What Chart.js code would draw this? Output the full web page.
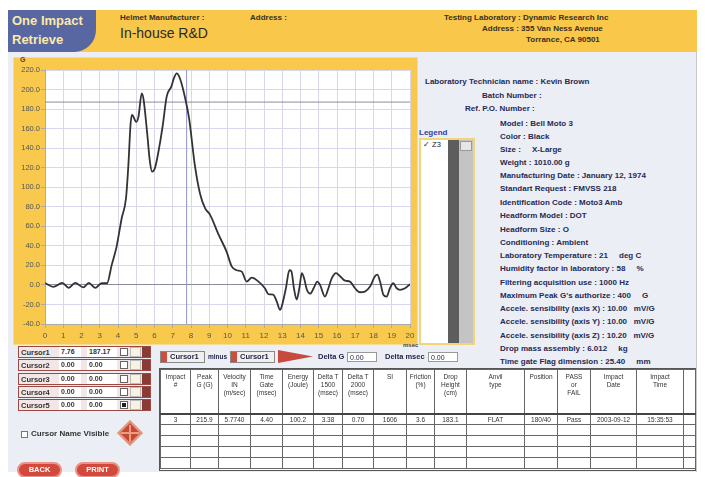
<!DOCTYPE html>
<html><head><meta charset="utf-8">
<script src="https://cdn.jsdelivr.net/npm/chart.js@4/dist/chart.umd.min.js"></script>
<style>
*{box-sizing:border-box;margin:0;padding:0}
body{width:705px;height:477px;background:#fff;font-family:"Liberation Sans",Arial,sans-serif;position:relative;overflow:hidden;color:#22254a}
.abs{position:absolute;white-space:nowrap}
#app{left:8px;top:10px;width:689px;height:462px;background:#eceef5;border-right:1px solid #c8c8d0}
#hdr{left:8px;top:10px;width:689px;height:42px;background:#f9c74a}
#blue{left:8px;top:10px;width:88px;height:42px;background:#5866a2;border-bottom-right-radius:22px}
.bt{font-weight:bold;font-size:13px;color:#fbeaa8;left:12px}
.s7{font-size:8px;font-weight:bold;color:#3a3020}
#panel{left:13px;top:57px;width:405px;height:288px;background:#f9c94e;border:1px solid #f3dc95}
.info{font-size:8px;font-weight:bold;color:#262a52;left:500px}
.crow{left:18px;width:133px;height:12px;border:1px solid #9a4a42;background:#f3e6e6;font-size:7.5px;font-weight:bold;color:#333}
.crow span{position:absolute;top:1px}
.fld{background:#fff;border:1px solid #999;font-size:7px;height:10px;line-height:9px;padding-left:2px}
table{border-collapse:collapse;font-size:6.5px;color:#333;table-layout:fixed}
td{border:1px solid #666;text-align:center;vertical-align:top;overflow:hidden;line-height:8px;padding-top:1px}
.btn{top:462px;height:16px;border-radius:8px;background:#d34a3d;border:2px solid #e8948a;color:#fff;font-weight:bold;font-size:7.5px;text-align:center;line-height:12px}
</style></head><body>
<div id="app" class="abs"></div>
<div id="hdr" class="abs"></div>
<div id="blue" class="abs"></div>
<div class="abs bt" style="top:13px">One Impact</div>
<div class="abs bt" style="top:32px">Retrieve</div>
<div class="abs s7" style="left:120px;top:13px">Helmet Manufacturer :</div>
<div class="abs" style="left:120px;top:25px;font-size:14px;color:#2a2a2a">In-house R&amp;D</div>
<div class="abs s7" style="left:250px;top:13px">Address :</div>
<div class="abs s7" style="left:444px;top:13px">Testing Laboratory : Dynamic Research Inc</div>
<div class="abs s7" style="left:482px;top:24px">Address : 355 Van Ness Avenue</div>
<div class="abs s7" style="left:526px;top:35px">Torrance, CA 90501</div>

<div id="panel" class="abs"></div>
<div class="abs" style="left:20px;top:56px;font-size:7px;font-weight:bold;color:#444">G</div>
<div class="abs" style="left:403px;top:342px;font-size:6px;font-weight:bold;color:#444">msec</div>
<canvas id="c" class="abs" width="405" height="290" style="left:13px;top:57px;width:405px;height:290px"></canvas>

<!-- legend -->
<div class="abs" style="left:419px;top:128px;font-size:8px;font-weight:bold;color:#3340a0">Legend</div>
<div class="abs" style="left:419px;top:138px;width:56px;height:207px;border:2px solid #f4d478;background:#fff"></div>
<div class="abs" style="left:448px;top:140px;width:11px;height:203px;background:#5d5d5d"></div>
<div class="abs" style="left:459px;top:140px;width:14px;height:203px;background:#c4c4c4"></div>
<div class="abs" style="left:460px;top:141px;width:12px;height:10px;background:#e6e6e6;border:1px solid #999"></div>
<div class="abs" style="left:423px;top:140px;font-size:7.5px;color:#222">✓ Z3</div>

<!-- info -->
<div class="abs info" style="left:425px;top:77px">Laboratory Technician name : Kevin Brown</div>
<div class="abs info" style="left:482px;top:91px">Batch Number :</div>
<div class="abs info" style="left:465px;top:104px">Ref. P.O. Number :</div>
<div class="abs info" style="top:119px">Model : Bell Moto 3</div>
<div class="abs info" style="top:132px">Color : Black</div>
<div class="abs info" style="top:145px">Size : &nbsp; &nbsp; X-Large</div>
<div class="abs info" style="top:158px">Weight : 1010.00 g</div>
<div class="abs info" style="top:171px">Manufacturing Date : January 12, 1974</div>
<div class="abs info" style="top:184px">Standart Request : FMVSS 218</div>
<div class="abs info" style="top:198px">Identification Code : Moto3 Amb</div>
<div class="abs info" style="top:211px">Headform Model : DOT</div>
<div class="abs info" style="top:225px">Headform Size : O</div>
<div class="abs info" style="top:238px">Conditioning : Ambient</div>
<div class="abs info" style="top:251px">Laboratory Temperature : 21 &nbsp; &nbsp; deg C</div>
<div class="abs info" style="top:264px">Humidity factor in laboratory : 58 &nbsp; &nbsp; %</div>
<div class="abs info" style="top:278px">Filtering acquisition use : 1000 Hz</div>
<div class="abs info" style="top:291px">Maximum Peak G's authorize : 400 &nbsp; &nbsp; G</div>
<div class="abs info" style="top:304px">Accele. sensibility (axis X) : 10.00 &nbsp; mV/G</div>
<div class="abs info" style="top:317px">Accele. sensibility (axis Y) : 10.00 &nbsp; mV/G</div>
<div class="abs info" style="top:331px">Accele. sensibility (axis Z) : 10.20 &nbsp; mV/G</div>
<div class="abs info" style="top:344px">Drop mass assembly : 6.012 &nbsp; &nbsp; kg</div>
<div class="abs info" style="top:357px">Time gate Flag dimension : 25.40 &nbsp; &nbsp; mm</div>

<!-- cursors -->
<div id="cursors"></div>
<div class="abs" style="left:21px;top:431px;width:7px;height:7px;border:1px solid #777;background:#fff"></div>
<div class="abs" style="left:31px;top:429px;font-size:8px;font-weight:bold;color:#333">Cursor Name Visible</div>
<div class="abs" style="left:121px;top:424px;width:18px;height:18px;background:#c8473a;transform:rotate(45deg);border:2px solid #e49a78"></div>
<div class="abs" style="left:129px;top:425px;width:2px;height:17px;background:#e8a080"></div>
<div class="abs" style="left:121px;top:432px;width:18px;height:2px;background:#e8a080"></div>
<div class="abs btn" style="left:17px;width:45px">BACK</div>
<div class="abs btn" style="left:75px;width:45px">PRINT</div>

<!-- cursor diff -->
<div class="abs" style="left:160px;top:351px;width:45px;height:12px;border:1px solid #888;background:#f2f0ee"></div>
<div class="abs" style="left:161px;top:352px;width:6px;height:10px;background:#c8503f"></div>
<div class="abs" style="left:170px;top:352px;font-size:7.5px;font-weight:bold">Cursor1</div>
<div class="abs" style="left:208px;top:353px;font-size:6.5px;font-weight:bold">minus</div>
<div class="abs" style="left:230px;top:351px;width:45px;height:12px;border:1px solid #888;background:#f2f0ee"></div>
<div class="abs" style="left:231px;top:352px;width:6px;height:10px;background:#c8503f"></div>
<div class="abs" style="left:240px;top:352px;font-size:7.5px;font-weight:bold">Cursor1</div>
<div class="abs" style="left:278px;top:350px;width:35px;height:13px;background:#c64b3e;clip-path:polygon(0 0,100% 50%,0 100%)"></div>
<div class="abs" style="left:318px;top:352px;font-size:7.5px;font-weight:bold">Delta G</div>
<div class="abs fld" style="left:347px;top:352px;width:30px">0.00</div>
<div class="abs" style="left:385px;top:352px;font-size:7.5px;font-weight:bold">Delta msec</div>
<div class="abs fld" style="left:428px;top:352px;width:30px">0.00</div>

<!-- table -->
<div class="abs" style="left:159px;top:368px;width:537px;height:103px;border:1px solid #555;background:#fff"></div>
<table id="tbl" class="abs" style="left:160px;top:369px;width:535px"></table>

<script>
// ---- data ----
const timeMs = [0, 0.45, 0.95, 1.3, 1.65, 2.1, 2.4, 2.75, 3.1, 3.4, 3.65, 3.92, 4.2, 4.44, 4.57, 4.69, 4.77, 5.0, 5.12, 5.3, 5.4, 5.6, 5.75, 5.87, 6.03, 6.27, 6.45, 6.67, 6.92, 7.07, 7.22, 7.4, 7.67, 7.9, 8.2, 8.5, 8.77, 9.04, 9.5, 9.95, 10.23, 10.5, 10.78, 11.05, 11.33, 11.7, 12.05, 12.24, 12.5, 12.7, 12.88, 13.0, 13.2, 13.39, 13.5, 13.64, 13.79, 13.94, 14.07, 14.2, 14.35, 14.53, 14.72, 14.92, 15.07, 15.34, 15.53, 15.71, 15.95, 16.17, 16.44, 16.71, 16.99, 17.26, 17.53, 17.81, 18.08, 18.21, 18.36, 18.54, 18.72, 18.9, 19.08, 19.27, 19.45, 19.73, 20];
const gValues = [2, -2, 2, -3, 2, -2.5, 2, -3, 1.7, 1.7, 20, 39, 68, 89, 123, 165, 174, 167, 172, 196, 190, 155, 126, 116, 120, 142, 163, 193, 203, 212, 216.5, 211, 192, 170, 124, 93, 78.5, 72, 52, 34, 19, 15, 13.6, 3.4, 7.5, 3.4, -3.4, -9.5, -10, -17, -25.6, -20, -3.4, 15, 14, -3.4, -15, -3, 12, 6.6, -5, -9, -3.4, 3.4, 0, -12, -3.4, 6.6, 12, 8.9, 4.4, 3.4, -3.4, -7.5, -6.8, -1.7, 8.9, 10.6, 3.4, -10, -12, -3.4, 1.7, -3.4, -5, -3.4, 0.7];
const cursorT = 7.76;
const cursorG = 187.17;
const xTickMax = 20;
const yTickMin = -40, yTickMax = 220, yStep = 20;

const cursorNames = ["Cursor1","Cursor2","Cursor3","Cursor4","Cursor5"];
const cursorTimes = ["7.76","0.00","0.00","0.00","0.00"];
const cursorGs = ["187.17","0.00","0.00","0.00","0.00"];

const tableHeaders = ["Impact<br>#","Peak<br>G (G)","Velocity<br>IN<br>(m/sec)","Time<br>Gate<br>(msec)","Energy<br>(Joule)","Delta T<br>1500<br>(msec)","Delta T<br>2000<br>(msec)","SI","Friction<br>(%)","Drop<br>Height<br>(cm)","Anvil<br>type","Position","PASS<br>or<br>FAIL","Impact<br>Date","Impact<br>Time",""];
const tableRow = ["3","215.9","5.7740","4.40","100.2","3.38","0.70","1606","3.6","183.1","FLAT","180/40","Pass","2003-09-12","15:35:53",""];
const colWidths = [30,28,32,32,31,29,31,33,28,32,58,33,33,46,47,12];

// ---- cursor rows ----
let ch = "";
cursorNames.forEach((n,i)=>{
  const top = 346 + i*13.3;
  ch += `<div class="abs crow" style="top:${top}px"><span style="left:2px">${n}</span>
  <span class="fld" style="left:40px;top:0;width:22px;border:none">${cursorTimes[i]}</span>
  <span class="fld" style="left:68px;top:0;width:30px;border:none">${cursorGs[i]}</span>
  <span style="left:101px;top:1px;width:8px;height:8px;background:#fff;border:1px solid #666">${i==4?'<b style="display:block;margin:1px;width:4px;height:4px;background:#222"></b>':''}</span>
  <span style="left:111px;top:0;width:11px;height:10px;background:#f7f2e4;border:1px solid #bbb"></span>
  <span style="left:123px;top:0;width:8px;height:10px;background:#8a3a34"></span></div>`;
});
document.getElementById('cursors').innerHTML = ch;

// ---- table ----
let th = "<colgroup>" + colWidths.map(w=>`<col style="width:${w}px">`).join("") + "</colgroup>";
th += "<tr style='height:44px'>" + tableHeaders.map(h=>`<td style="padding-top:3px">${h}</td>`).join("") + "</tr>";
th += "<tr style='height:11px'>" + tableRow.map(v=>`<td style="border-top:2px solid #444">${v}</td>`).join("") + "</tr>";
for(let r=0;r<4;r++) th += "<tr style='height:11px'>" + colWidths.map(()=>"<td></td>").join("") + "</tr>";
document.getElementById('tbl').innerHTML = th;

// ---- chart ----
const whiteArea = {id:'whiteArea', beforeDraw(chart){const {ctx,chartArea:a}=chart;ctx.save();ctx.fillStyle='#fff';ctx.fillRect(a.left,a.top,a.right-a.left,a.bottom-a.top);ctx.restore();}};
new Chart(document.getElementById('c'), {
  type:'scatter',
  data:{datasets:[
    {data: timeMs.map((t,i)=>({x:t,y:gValues[i]})), showLine:true, borderColor:'#333', borderWidth:1.8, pointRadius:0, cubicInterpolationMode:'monotone'},
    {data:[{x:0,y:cursorG},{x:xTickMax,y:cursorG}], showLine:true, borderColor:'#8a8a9a', borderWidth:1, pointRadius:0},
    {data:[{x:cursorT,y:yTickMin},{x:cursorT,y:yTickMax}], showLine:true, borderColor:'#8f96d0', borderWidth:1, pointRadius:0}
  ]},
  options:{
    responsive:false, animation:false, events:[],
    layout:{padding:{top:13,right:8,left:0,bottom:0}},
    plugins:{legend:{display:false},tooltip:{enabled:false}},
    scales:{
      x:{type:'linear',min:0,max:xTickMax,
        ticks:{stepSize:1,autoSkip:false,maxRotation:0,color:'#555',font:{size:8,family:'Liberation Sans'},padding:3},
        grid:{color:'#d8d8ec',tickLength:4,tickColor:'#aaa'},border:{color:'#aaa'},
        afterFit(s){s.height=23;}},
      y:{min:yTickMin,max:yTickMax,
        ticks:{stepSize:yStep,color:'#555',font:{size:7.5,family:'Liberation Sans'},padding:1,callback:v=>v.toFixed(1)},
        grid:{color:c=>c.tick&&c.tick.value===0?'#8a8a9a':'#d8d8ec',tickLength:4,tickColor:'#aaa'},border:{color:'#aaa'},
        afterFit(s){s.width=32;}}
    }
  },
  plugins:[whiteArea]
});
</script>
</body></html>
